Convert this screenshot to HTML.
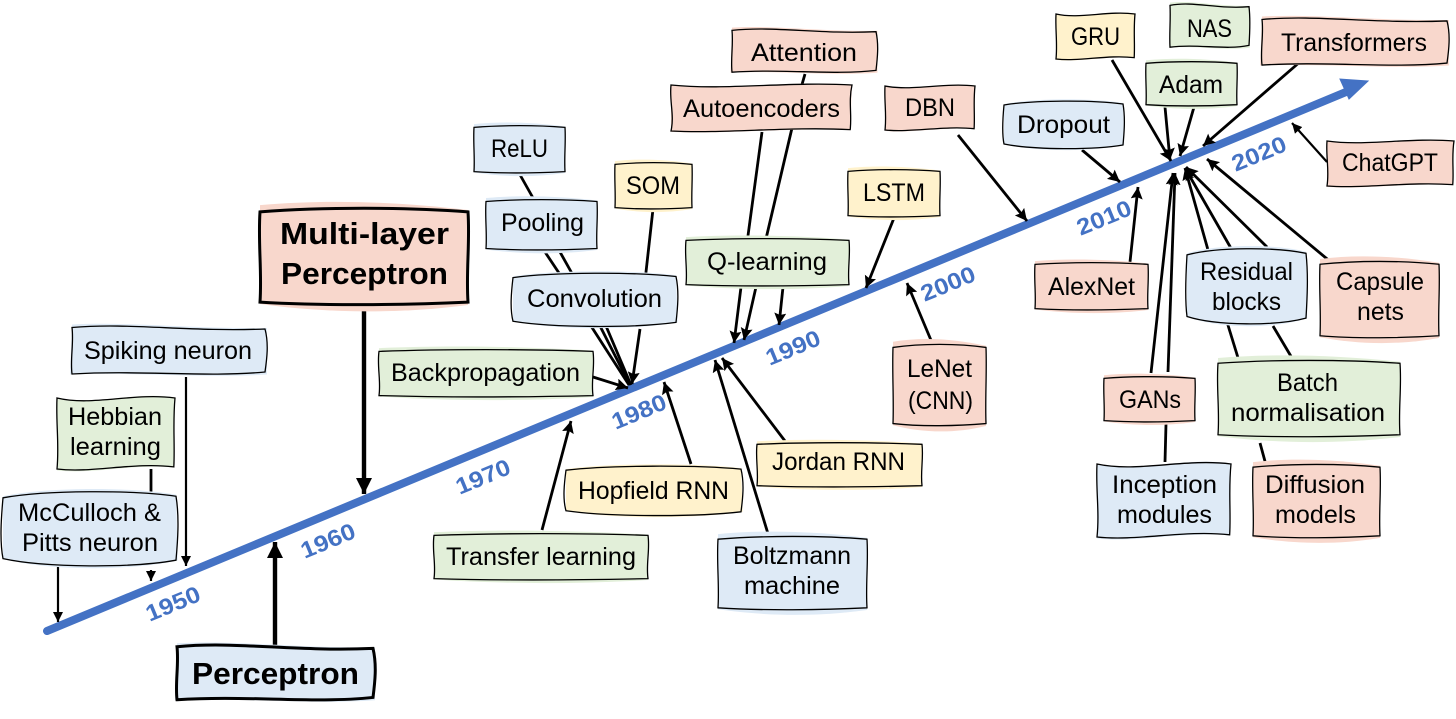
<!DOCTYPE html>
<html>
<head>
<meta charset="utf-8">
<style>
html,body{margin:0;padding:0;background:#fff;width:1456px;height:719px;overflow:hidden}
svg{display:block}
text{font-family:"Liberation Sans",sans-serif;fill:#000;font-size:25px}
text.b{font-weight:bold;font-size:31px}
text.y{font-weight:bold;font-size:23px;fill:#4472C4;text-anchor:middle}
.a line{stroke:#000;stroke-width:2.8;fill:none}
.a line.n{marker-end:url(#ah)}
.a line.s{stroke-width:2.2;marker-end:url(#as)}
.a line.k{stroke-width:4.4;marker-end:url(#ak)}
.o{fill:none;stroke:#000;vector-effect:non-scaling-stroke}
.f{stroke:none}
</style>
</head>
<body>
<svg xmlns="http://www.w3.org/2000/svg" width="1456" height="719" viewBox="0 0 1456 719">
<defs>
<marker id="ah" markerUnits="userSpaceOnUse" markerWidth="15" markerHeight="13" refX="12" refY="6" orient="auto"><path d="M0 0L12 6L0 12L2 6Z" fill="#000"/></marker>
<marker id="as" markerUnits="userSpaceOnUse" markerWidth="12" markerHeight="11" refX="10" refY="5" orient="auto"><path d="M0 0L10 5L0 10Z" fill="#000"/></marker>
<marker id="ak" markerUnits="userSpaceOnUse" markerWidth="20" markerHeight="18" refX="16" refY="8" orient="auto"><path d="M0 0L16 8L0 16Z" fill="#000"/></marker>
<symbol id="w1" viewBox="0 0 100 100" preserveAspectRatio="none" overflow="visible">
<path class="f" d="M0 -3C30 -9 60 6 101 4L101 97C70 105 35 92 -1 97Z"/>
<path class="o" d="M0 3C30 -7 60 12 100 6C102 35 101 65 100 92C70 103 35 88 0 96C-1 65 1 35 0 3Z"/>
</symbol>
<symbol id="w2" viewBox="0 0 100 100" preserveAspectRatio="none" overflow="visible">
<path class="f" d="M0 0C30 12 65 -10 100 -1L99 98C65 92 30 108 0 102Z"/>
<path class="o" d="M0 0C30 12 65 -8 100 0C98 35 100 65 99 97C65 90 30 106 0 100C2 65 -1 35 0 0Z"/>
</symbol>
<symbol id="w3" viewBox="0 0 100 100" preserveAspectRatio="none" overflow="visible">
<path class="f" d="M0 8C25 -4 75 -4 100 6L101 90C75 104 25 104 0 88Z"/>
<path class="o" d="M0 10C25 0 75 0 100 8C102 35 101 65 100 90C75 100 25 100 0 88C-2 65 -1 35 0 10Z"/>
</symbol>
<symbol id="w4" viewBox="0 0 100 100" preserveAspectRatio="none" overflow="visible">
<path class="f" d="M0 -4C30 -10 65 -8 100 1L100 100C65 110 30 108 0 99Z"/>
<path class="o" d="M0 3C30 -2 70 -2 100 3C101 35 99 65 100 97C70 100 30 101 0 97C1 65 -1 35 0 3Z"/>
</symbol>
</defs>

<!-- timeline -->
<line x1="47" y1="631" x2="1346" y2="92" stroke="#4472C4" stroke-width="8" stroke-linecap="round"/>
<path d="M1368 81L1340 79L1349 99Z" fill="#4472C4" stroke="#4472C4"/>

<!-- years -->
<text class="y" transform="translate(176,611) rotate(-22.5)" textLength="57" lengthAdjust="spacingAndGlyphs">1950</text>
<text class="y" transform="translate(331,548) rotate(-22.5)" textLength="57" lengthAdjust="spacingAndGlyphs">1960</text>
<text class="y" transform="translate(486,484) rotate(-22.5)" textLength="57" lengthAdjust="spacingAndGlyphs">1970</text>
<text class="y" transform="translate(642,419) rotate(-22.5)" textLength="57" lengthAdjust="spacingAndGlyphs">1980</text>
<text class="y" transform="translate(796,355) rotate(-22.5)" textLength="57" lengthAdjust="spacingAndGlyphs">1990</text>
<text class="y" transform="translate(951,291) rotate(-22.5)" textLength="57" lengthAdjust="spacingAndGlyphs">2000</text>
<text class="y" transform="translate(1107,225) rotate(-22.5)" textLength="57" lengthAdjust="spacingAndGlyphs">2010</text>
<text class="y" transform="translate(1262,161) rotate(-22.5)" textLength="57" lengthAdjust="spacingAndGlyphs">2020</text>

<!-- connectors -->
<g class="a">
<line class="s" x1="186" y1="377" x2="186" y2="566"/>
<line x1="151" y1="469" x2="151" y2="493"/>
<line class="s" x1="151" y1="570" x2="151" y2="581"/>
<line class="s" x1="58" y1="558" x2="58" y2="622"/>
<line class="k" x1="364" y1="303" x2="364" y2="494"/>
<line class="k" x1="275" y1="645" x2="275" y2="542"/>
<line x1="519" y1="173" x2="537" y2="205"/>
<line x1="545" y1="252" x2="561" y2="276"/>
<line x1="560" y1="252" x2="574" y2="277"/>
<line x1="653" y1="209" x2="645" y2="281"/>
<line x1="591" y1="326" x2="629" y2="385"/>
<line x1="600" y1="326" x2="630" y2="385"/>
<line x1="606" y1="326" x2="631" y2="385"/>
<line class="n" x1="640" y1="329" x2="632" y2="384"/>
<line class="n" x1="593" y1="377" x2="628" y2="388"/>
<line class="n" x1="691" y1="464" x2="664" y2="382"/>
<line class="n" x1="542" y1="530" x2="571" y2="421"/>
<line class="n" x1="769" y1="537" x2="715" y2="360"/>
<line class="n" x1="785" y1="441" x2="722" y2="358"/>
<line x1="805" y1="74" x2="801" y2="88"/>
<line x1="762" y1="132" x2="747" y2="243"/>
<line x1="792" y1="128" x2="765" y2="243"/>
<line class="n" x1="741" y1="287" x2="734" y2="343"/>
<line class="n" x1="756" y1="287" x2="744" y2="340"/>
<line class="n" x1="783" y1="287" x2="779" y2="325"/>
<line class="n" x1="894" y1="218" x2="866" y2="288"/>
<line class="n" x1="933" y1="345" x2="907" y2="283"/>
<line class="n" x1="958" y1="135" x2="1027" y2="221"/>
<line class="n" x1="1082" y1="150" x2="1120" y2="182"/>
<line class="n" x1="1130" y1="262" x2="1138" y2="187"/>
<line class="n" x1="1112" y1="60" x2="1171" y2="161"/>
<line class="n" x1="1165" y1="107" x2="1170" y2="160"/>
<line class="n" x1="1194" y1="107" x2="1180" y2="156"/>
<line class="n" x1="1301" y1="61" x2="1203" y2="146"/>
<line class="s" x1="1327" y1="162" x2="1292" y2="123"/>
<line class="n" x1="1151" y1="373" x2="1173" y2="173"/>
<line x1="1166" y1="424" x2="1165" y2="462"/>
<line class="n" x1="1168" y1="372" x2="1175" y2="173"/>
<line class="n" x1="1208" y1="250" x2="1185" y2="168"/>
<line class="n" x1="1232" y1="250" x2="1185" y2="168"/>
<line class="n" x1="1267" y1="247" x2="1186" y2="167"/>
<line class="n" x1="1332" y1="263" x2="1207" y2="159"/>
<line x1="1227" y1="322" x2="1239" y2="361"/>
<line x1="1273" y1="326" x2="1292" y2="358"/>
<line x1="1260" y1="443" x2="1266" y2="465"/>
</g>

<!-- boxes -->
<g stroke-width="1.3">
<use href="#w1" x="72" y="326" width="193" height="50" fill="#DEEAF6"/>
<use href="#w2" x="57" y="398" width="118" height="71" fill="#E2EFD9"/>
<use href="#w3" x="3" y="490" width="173" height="78" fill="#DEEAF6"/>
<use href="#w4" x="474" y="126" width="91" height="47" fill="#DEEAF6"/>
<use href="#w4" x="486" y="200" width="111" height="50" fill="#DEEAF6"/>
<use href="#w4" x="615" y="163" width="77" height="46" fill="#FFF2CC"/>
<use href="#w1" x="732" y="29" width="144" height="45" fill="#F8D7CC"/>
<use href="#w2" x="671" y="85" width="181" height="46" fill="#F8D7CC"/>
<use href="#w2" x="885" y="86" width="90" height="44" fill="#F8D7CC"/>
<use href="#w4" x="848" y="170" width="92" height="47" fill="#FFF2CC"/>
<use href="#w4" x="686" y="239" width="163" height="47" fill="#E2EFD9"/>
<use href="#w3" x="513" y="272" width="163" height="56" fill="#DEEAF6"/>
<use href="#w4" x="379" y="350" width="214" height="47" fill="#E2EFD9"/>
<use href="#w3" x="566" y="465" width="175" height="52" fill="#FFF2CC"/>
<use href="#w4" x="757" y="443" width="165" height="44" fill="#FFF2CC"/>
<use href="#w4" x="434" y="534" width="214" height="46" fill="#E2EFD9"/>
<use href="#w4" x="718" y="537" width="149" height="73" fill="#DEEAF6"/>
<use href="#w4" x="893" y="345" width="93" height="81" fill="#F8D7CC"/>
<use href="#w2" x="1056" y="14" width="79" height="45" fill="#FFF2CC"/>
<use href="#w1" x="1170" y="4" width="79" height="45" fill="#E2EFD9"/>
<use href="#w4" x="1146" y="62" width="91" height="44" fill="#E2EFD9"/>
<use href="#w1" x="1262" y="18" width="185" height="49" fill="#F8D7CC"/>
<use href="#w3" x="1004" y="100" width="119" height="50" fill="#DEEAF6"/>
<use href="#w2" x="1327" y="141" width="127" height="45" fill="#F8D7CC"/>
<use href="#w4" x="1035" y="263" width="113" height="47" fill="#F8D7CC"/>
<use href="#w3" x="1187" y="247" width="119" height="79" fill="#DEEAF6"/>
<use href="#w4" x="1320" y="262" width="119" height="76" fill="#F8D7CC"/>
<use href="#w4" x="1104" y="377" width="91" height="45" fill="#F8D7CC"/>
<use href="#w4" x="1218" y="361" width="182" height="76" fill="#E2EFD9"/>
<use href="#w2" x="1097" y="464" width="134" height="73" fill="#DEEAF6"/>
<use href="#w4" x="1253" y="465" width="127" height="73" fill="#F8D7CC"/>
</g>
<g stroke-width="3">
<use href="#w4" x="260" y="209" width="208" height="96" fill="#F8D7CC"/>
<use href="#w1" x="177" y="645" width="196" height="57" fill="#DEEAF6"/>
</g>

<!-- labels -->
<g transform="translate(0,-1)">
<text x="84" y="360" textLength="168" lengthAdjust="spacingAndGlyphs">Spiking neuron</text>
<text x="68" y="426" textLength="94" lengthAdjust="spacingAndGlyphs">Hebbian</text>
<text x="70" y="456" textLength="91" lengthAdjust="spacingAndGlyphs">learning</text>
<text x="18" y="522" textLength="143" lengthAdjust="spacingAndGlyphs">McCulloch &amp;</text>
<text x="22" y="552" textLength="136" lengthAdjust="spacingAndGlyphs">Pitts neuron</text>
<text class="b" x="280" y="245" textLength="169" lengthAdjust="spacingAndGlyphs">Multi-layer</text>
<text class="b" x="281" y="285" textLength="167" lengthAdjust="spacingAndGlyphs">Perceptron</text>
<text class="b" x="192" y="685" textLength="167" lengthAdjust="spacingAndGlyphs">Perceptron</text>
<text x="491" y="158" textLength="57" lengthAdjust="spacingAndGlyphs">ReLU</text>
<text x="501" y="232" textLength="83" lengthAdjust="spacingAndGlyphs">Pooling</text>
<text x="626" y="195" textLength="54" lengthAdjust="spacingAndGlyphs">SOM</text>
<text x="751" y="62" textLength="106" lengthAdjust="spacingAndGlyphs">Attention</text>
<text x="683" y="118" textLength="157" lengthAdjust="spacingAndGlyphs">Autoencoders</text>
<text x="905" y="117" textLength="50" lengthAdjust="spacingAndGlyphs">DBN</text>
<text x="863" y="202" textLength="62" lengthAdjust="spacingAndGlyphs">LSTM</text>
<text x="707" y="271" textLength="120" lengthAdjust="spacingAndGlyphs">Q-learning</text>
<text x="527" y="308" textLength="135" lengthAdjust="spacingAndGlyphs">Convolution</text>
<text x="391" y="382" textLength="189" lengthAdjust="spacingAndGlyphs">Backpropagation</text>
<text x="578" y="500" textLength="151" lengthAdjust="spacingAndGlyphs">Hopfield RNN</text>
<text x="772" y="471" textLength="133" lengthAdjust="spacingAndGlyphs">Jordan RNN</text>
<text x="446" y="566" textLength="190" lengthAdjust="spacingAndGlyphs">Transfer learning</text>
<text x="733" y="565" textLength="118" lengthAdjust="spacingAndGlyphs">Boltzmann</text>
<text x="744" y="595" textLength="96" lengthAdjust="spacingAndGlyphs">machine</text>
<text x="907" y="378" textLength="65" lengthAdjust="spacingAndGlyphs">LeNet</text>
<text x="908" y="410" textLength="65" lengthAdjust="spacingAndGlyphs">(CNN)</text>
<text x="1071" y="46" textLength="49" lengthAdjust="spacingAndGlyphs">GRU</text>
<text x="1187" y="38" textLength="45" lengthAdjust="spacingAndGlyphs">NAS</text>
<text x="1159" y="94" textLength="64" lengthAdjust="spacingAndGlyphs">Adam</text>
<text x="1281" y="52" textLength="146" lengthAdjust="spacingAndGlyphs">Transformers</text>
<text x="1017" y="134" textLength="93" lengthAdjust="spacingAndGlyphs">Dropout</text>
<text x="1342" y="172" textLength="96" lengthAdjust="spacingAndGlyphs">ChatGPT</text>
<text x="1048" y="296" textLength="87" lengthAdjust="spacingAndGlyphs">AlexNet</text>
<text x="1200" y="281" textLength="93" lengthAdjust="spacingAndGlyphs">Residual</text>
<text x="1212" y="311" textLength="69" lengthAdjust="spacingAndGlyphs">blocks</text>
<text x="1336" y="291" textLength="88" lengthAdjust="spacingAndGlyphs">Capsule</text>
<text x="1357" y="321" textLength="47" lengthAdjust="spacingAndGlyphs">nets</text>
<text x="1119" y="409" textLength="62" lengthAdjust="spacingAndGlyphs">GANs</text>
<text x="1277" y="392" textLength="61" lengthAdjust="spacingAndGlyphs">Batch</text>
<text x="1231" y="422" textLength="154" lengthAdjust="spacingAndGlyphs">normalisation</text>
<text x="1112" y="494" textLength="105" lengthAdjust="spacingAndGlyphs">Inception</text>
<text x="1117" y="524" textLength="95" lengthAdjust="spacingAndGlyphs">modules</text>
<text x="1265" y="494" textLength="100" lengthAdjust="spacingAndGlyphs">Diffusion</text>
<text x="1275" y="524" textLength="81" lengthAdjust="spacingAndGlyphs">models</text>
</g>
</svg>
</body>
</html>
